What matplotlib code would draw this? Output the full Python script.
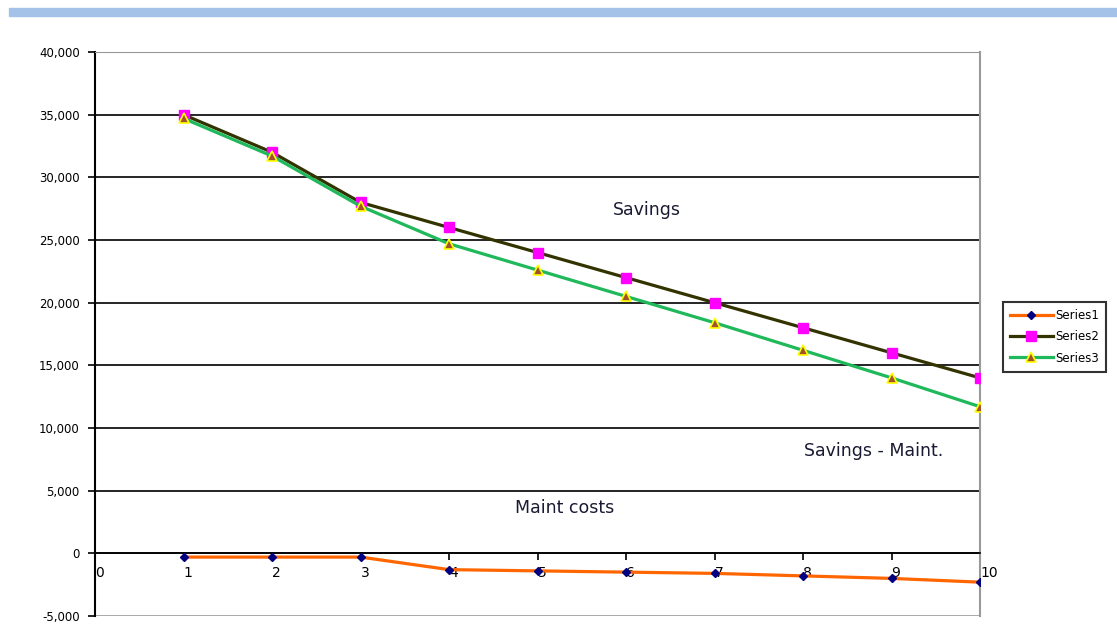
import matplotlib
matplotlib.use('Agg')
import matplotlib.pyplot as plt
import numpy as np

plt.rcParams['font.family'] = ['DejaVu Sans']

# ---------------- data ---------------- #
years = [1, 2, 3, 4, 5, 6, 7, 8, 9, 10]
series1 = [-300, -300, -300, -1300, -1400, -1500, -1600, -1800, -2000, -2300]   # maint costs
series2 = [35000, 32000, 28000, 26000, 24000, 22000, 20000, 18000, 16000, 14000]  # savings
series3 = [34700, 31700, 27700, 24700, 22600, 20500, 18400, 16200, 14000, 11700]  # savings - maint
labels = ['Series1', 'Series2', 'Series3']
yticks = np.arange(-5000, 40001, 5000)
xticks = np.arange(0, 11, 1)

# ---------------- figure ---------------- #
figure = plt.figure(figsize=(11.17, 6.31), dpi=100)

# blue banner on top
figure.patches.append(plt.Rectangle((9 / 1117, 1 - 16 / 631), 1 - 9 / 1117, 8 / 631,
                                    transform=figure.transFigure, color='#a4c2e8', zorder=0))

ax = figure.add_axes([95 / 1117, 1 - 616 / 631, (980 - 95) / 1117, (616 - 52) / 631])

p1, = ax.plot(years, series1, color='#ff6600', lw=2.3, marker='D', ms=4.5,
              mfc='#000080', mec='#000080', zorder=4)
p2, = ax.plot(years, series2, color='#333300', lw=2.3, marker='s', ms=6.5,
              mfc='#ff00ff', mec='#ff00ff', zorder=3)
p3, = ax.plot(years, series3, color='#1fb85a', lw=2.3, marker='^', ms=6.5,
              mfc='#a0522d', mec='#ffff00', mew=1.2, zorder=4)

ax.set_xlim(0, 10)
ax.set_ylim(-5000, 40000)
ax.set_yticks(yticks)
ax.set_yticklabels(['{:,}'.format(v) for v in yticks], fontsize=8.5)
ax.set_xticks(xticks)
ax.set_xticklabels([str(v) for v in xticks], fontsize=8.5)

ax.grid(axis='y', color='black', lw=1.2, zorder=1)
ax.grid(axis='x', visible=False)
gl = ax.get_ygridlines()
gl[0].set_color('#999999')
gl[-1].set_color('#999999')

ax.spines['bottom'].set_position(('data', 0))
ax.spines['bottom'].set_color('black')
ax.spines['bottom'].set_linewidth(1.2)
ax.spines['left'].set_linewidth(1.5)
ax.spines['top'].set_color('#999999')
ax.spines['right'].set_color('#999999')
ax.spines['right'].set_linewidth(1.5)
ax.tick_params(axis='y', direction='out', length=5, width=1.2, pad=6)
ax.tick_params(axis='x', direction='out', length=5, width=1.2, pad=4)
for lbl in ax.get_xticklabels():
    lbl.set_horizontalalignment('left')

ax.text(6.24, 27400, 'Savings', fontsize=12.5, color='#1a1a33', ha='center', va='center')
ax.text(8.8, 8150, 'Savings - Maint.', fontsize=12.5, color='#1a1a33', ha='center', va='center')
ax.text(5.31, 3600, 'Maint costs', fontsize=12.5, color='#1a1a33', ha='center', va='center')

figure.legend((p1, p2, p3), labels,
              loc='upper left',
              bbox_to_anchor=(1003 / 1117, 1 - 302 / 631),
              prop=dict(size=8.5),
              handlelength=3.6,
              handletextpad=0.2,
              borderpad=0.6,
              borderaxespad=0,
              labelspacing=0.7,
              frameon=True,
              fancybox=False,
              edgecolor='black').get_frame().set_linewidth(1.5)

plt.savefig('out.png', dpi=100)
